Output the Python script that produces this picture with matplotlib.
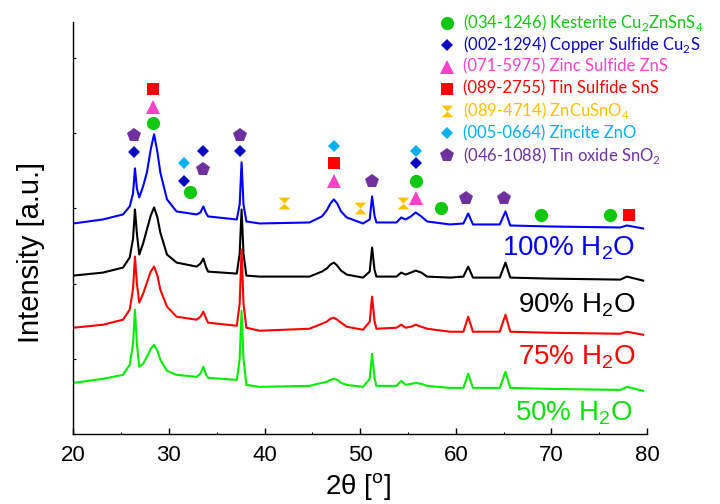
import matplotlib
matplotlib.use('Agg')
import matplotlib.pyplot as plt
from matplotlib.ticker import MultipleLocator

plt.rcParams['font.family'] = ['Liberation Sans', 'DejaVu Sans']

# XRD patterns (2theta in degrees, intensity in a.u.)
two_theta = [20.0, 23.1, 25.2, 25.9, 26.25, 26.45, 26.65, 26.9, 27.3, 27.7,
             28.1, 28.45, 28.8, 29.1, 29.8, 30.8, 32.9, 33.3, 33.6, 33.9,
             34.1, 37.1, 37.4, 37.6, 37.8, 38.1, 39.5, 44.7, 46.0, 46.5,
             46.9, 47.25, 47.6, 48.0, 48.6, 50.3, 51.0, 51.25, 51.5, 51.7,
             53.8, 54.3, 54.75, 55.3, 55.8, 56.4, 57.0, 59.4, 60.8, 61.3,
             61.8, 64.6, 65.2, 65.7, 69.8, 77.2, 77.9, 79.6]

int_100 = [210, 214, 219, 227, 240, 265, 245, 236, 247, 261,
           284, 299, 281, 261, 234, 222, 219, 221, 227, 220,
           217, 214, 229, 271, 229, 212, 210, 211, 217, 223,
           230, 234, 230, 222, 216, 210, 214, 237, 218, 211,
           211, 216, 214, 217, 221, 217, 212, 209, 210, 220,
           209, 209, 222, 208, 207, 206, 208, 205]

int_90 = [158, 161, 166, 176, 195, 224, 200, 179, 190, 204,
          218, 226, 216, 201, 179, 171, 167, 170, 175, 166,
          162, 160, 180, 224, 180, 158, 157, 157, 162, 165,
          169, 171, 168, 163, 159, 156, 162, 186, 164, 157,
          157, 161, 159, 161, 163, 161, 157, 156, 157, 167,
          156, 156, 171, 156, 155, 154, 157, 153]

int_75 = [106, 109, 114, 124, 145, 177, 150, 131, 140, 151,
          162, 167, 158, 144, 127, 117, 114, 117, 122, 115,
          111, 108, 130, 184, 130, 106, 103, 105, 110, 112,
          115, 116, 114, 111, 107, 104, 112, 137, 113, 105,
          106, 109, 106, 107, 109, 107, 105, 102, 102, 117,
          102, 102, 119, 102, 101, 100, 102, 99]

int_50 = [51, 55, 59, 69, 90, 124, 90, 67, 70, 77,
          85, 89, 83, 74, 63, 59, 57, 60, 67, 59,
          56, 54, 75, 123, 75, 49, 47, 48, 51, 52,
          54, 55, 54, 51, 49, 47, 55, 80, 56, 48,
          48, 53, 49, 50, 51, 50, 48, 46, 46, 60,
          46, 46, 62, 46, 45, 44, 47, 43]

sample_labels = ['100% H$_\\mathregular{2}$O', '90% H$_\\mathregular{2}$O',
                 '75% H$_\\mathregular{2}$O', '50% H$_\\mathregular{2}$O']

# reference peak markers (position, height above the curves)
kest_tt = [28.30, 32.19, 55.81, 58.42, 68.94, 76.08]
kest_y = [310, 241, 252, 225, 218, 218]
cu2s_tt = [26.31, 31.57, 33.52, 37.45, 55.81]
cu2s_y = [281, 252, 282, 282, 270]
zns_tt = [28.30, 47.27, 55.81]
zns_y = [326, 252, 235]
sns_tt = [28.30, 47.27, 78.10]
sns_y = [344, 270, 218]
zcso_tt = [42.02, 49.99, 54.48]
zcso_y = [230, 225, 230]
zno_tt = [31.57, 47.27, 55.81]
zno_y = [270, 287, 282]
sno2_tt = [26.31, 33.52, 37.45, 51.21, 61.11, 65.00]
sno2_y = [298, 264, 298, 252, 235, 235]

phase_labels = ['(034-1246) Kesterite Cu$_\\mathregular{2}$ZnSnS$_\\mathregular{4}$',
                '(002-1294) Copper Sulfide Cu$_\\mathregular{2}$S',
                '(071-5975) Zinc Sulfide ZnS',
                '(089-2755) Tin Sulfide SnS',
                '(089-4714) ZnCuSnO$_\\mathregular{4}$',
                '(005-0664) Zincite ZnO',
                '(046-1088) Tin oxide SnO$_\\mathregular{2}$']

HOURGLASS = [(-1, 1), (1, 1), (0, 0), (1, -1), (-1, -1), (0, 0)]

phases = [
    (kest_tt, kest_y, '#10C810', 'o', 9.5),
    (cu2s_tt, cu2s_y, '#0A0AC0', 'D', 6.2),
    (zns_tt, zns_y, '#FF40C8', '^', 9.5),
    (sns_tt, sns_y, '#FF0000', 's', 9.0),
    (zcso_tt, zcso_y, '#FFC000', HOURGLASS, 8.5),
    (zno_tt, zno_y, '#00B0F0', 'D', 6.2),
    (sno2_tt, sno2_y, '#7030A0', 'p', 10.0),
]

fig = plt.figure(figsize=(7.2, 5.04), dpi=100)
ax = fig.add_axes([0.1018, 0.1389, 0.7968, 0.8175])

curve_colors = ['#0000FF', '#000000', '#FF0000', '#00EE00']
label_colors = ['#0000FF', '#000000', '#FF0000', '#10E010']
label_pos = [(78.7, 178), (78.75, 121), (78.8, 70), (78.5, 14)]

for ys, c in zip([int_100, int_90, int_75, int_50], curve_colors):
    ax.plot(two_theta, ys, color=c, lw=1.5)

for lab, c, (x, y) in zip(sample_labels, label_colors, label_pos):
    ax.text(x, y, lab, color=c, fontsize=20, ha='right', va='baseline')

for tt, yy, c, m, ms in phases:
    ax.plot(tt, yy, ls='none', marker=m, color=c, markersize=ms,
            markeredgewidth=0, clip_on=False, zorder=5)

# legend drawn by hand in figure pixels
for i, (lab, (tt, yy, c, m, ms)) in enumerate(zip(phase_labels, phases)):
    yf = 1 - (22.7 + i * 22.05) / 504
    ax.plot([447 / 720], [yf], transform=fig.transFigure, ls='none', marker=m,
            color=c, markersize=ms, markeredgewidth=0, clip_on=False)
    fig.text(463 / 720, yf, lab, color=c, fontsize=12, family=['Lato', 'DejaVu Sans'],
             ha='left', va='center')

ax.set_xlim(20, 80)
ax.set_ylim(0, 411)
ax.spines['top'].set_visible(False)
ax.spines['right'].set_visible(False)
ax.spines['left'].set_linewidth(1.0)
ax.spines['bottom'].set_linewidth(1.0)

ax.xaxis.set_major_locator(MultipleLocator(10))
ax.xaxis.set_minor_locator(MultipleLocator(5))
ax.yaxis.set_major_locator(MultipleLocator(75))
ax.tick_params(axis='x', which='major', direction='in', length=4, width=1.0, pad=8,
               labelsize=16)
ax.tick_params(axis='x', which='minor', direction='in', length=1.5, width=0.8)
ax.tick_params(axis='y', which='major', direction='in', length=2, width=0.8,
               labelleft=False)

ax.set_xlabel('2\u03b8 [$^\\mathregular{o}$]', fontsize=20, va='center')
ax.xaxis.set_label_coords(0.496, -0.128)
ax.set_ylabel('Intensity [a.u.]', fontsize=21, va='center')
ax.yaxis.set_label_coords(-0.0737, 0.4405)

fig.savefig('out.png', dpi=100)
